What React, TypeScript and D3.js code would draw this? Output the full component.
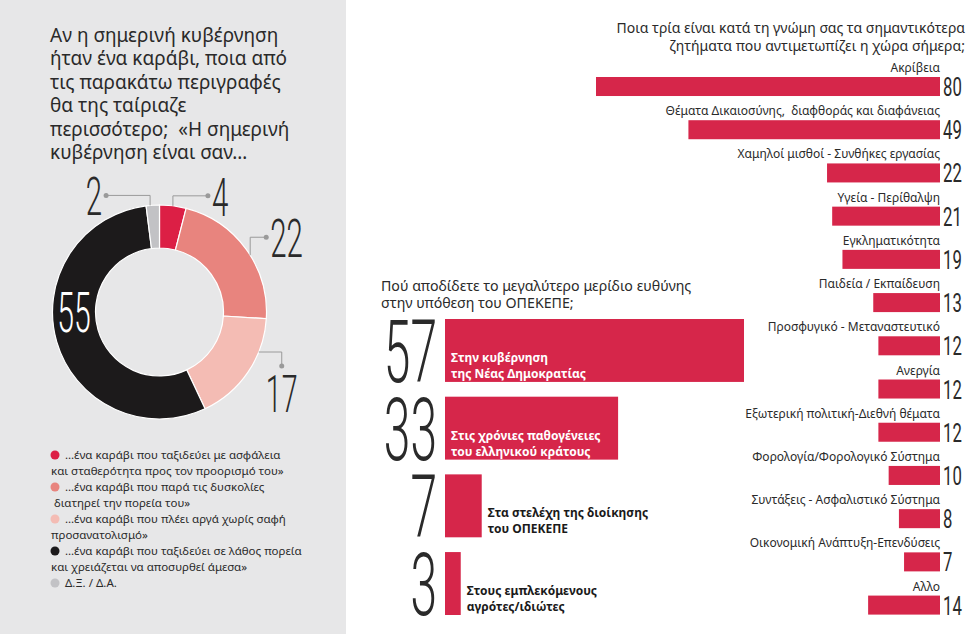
import React from 'react';
import * as d3 from 'd3';

const W = 980;
const H = 634;

// ---------- Left panel: donut ----------
const shipTitle = [
  'Αν η σημερινή κυβέρνηση',
  'ήταν ένα καράβι, ποια από',
  'τις παρακάτω περιγραφές',
  'θα της ταίριαζε',
  'περισσότερο;  «Η σημερινή',
  'κυβέρνηση είναι σαν…',
];
const shipValues = [4, 22, 17, 55, 2];
const shipColors = ['#dc1f45', '#e8847e', '#f4bcb4', '#1c1a1b', '#c2c2c5'];
const shipLegend = [
  ['…ένα καράβι που ταξιδεύει με ασφάλεια', 'και σταθερότητα προς τον προορισμό του»'],
  ['…ένα καράβι που παρά τις δυσκολίες', ' διατηρεί την πορεία του»'],
  ['…ένα καράβι που πλέει αργά χωρίς σαφή', 'προσανατολισμό»'],
  ['…ένα καράβι που ταξιδεύει σε λάθος πορεία', 'και χρειάζεται να αποσυρθεί άμεσα»'],
  ['Δ.Ξ. / Δ.Α.'],
];
// leader placement style per slice
const shipLeaders = [
  { frac: 0.5, dir: 'up', l1: 10, l2: 35 },
  { frac: 0.55, dir: 'up', l1: 18, l2: 16 },
  { frac: 0.3, dir: 'right', l1: 23, l2: 14 },
  { frac: 0.58, dir: 'inside', l1: 0, l2: 0 },
  { frac: 0.3, dir: 'up', l1: 10, l2: -44 },
];

// ---------- Middle: responsibility ----------
const respTitle = ['Πού αποδίδετε το μεγαλύτερο μερίδιο ευθύνης', 'στην υπόθεση του ΟΠΕΚΕΠΕ;'];
const respCategories = [
  ['Στην κυβέρνηση', 'της Νέας Δημοκρατίας'],
  ['Στις χρόνιες παθογένειες', 'του ελληνικού κράτους'],
  ['Στα στελέχη της διοίκησης', 'του ΟΠΕΚΕΠΕ'],
  ['Στους εμπλεκόμενους', 'αγρότες/ιδιώτες'],
];
const respValues = [57, 33, 7, 3];

// ---------- Right: issues ----------
const issueTitle = ['Ποια τρία είναι κατά τη γνώμη σας τα σημαντικότερα', 'ζητήματα που αντιμετωπίζει η χώρα σήμερα;'];
const issueCategories = [
  'Ακρίβεια',
  'Θέματα Δικαιοσύνης,  διαφθοράς και διαφάνειας',
  'Χαμηλοί μισθοί - Συνθήκες εργασίας',
  'Υγεία - Περίθαλψη',
  'Εγκληματικότητα',
  'Παιδεία / Εκπαίδευση',
  'Προσφυγικό - Μεταναστευτικό',
  'Ανεργία',
  'Εξωτερική πολιτική-Διεθνή θέματα',
  'Φορολογία/Φορολογικό Σύστημα',
  'Συντάξεις - Ασφαλιστικό Σύστημα',
  'Οικονομική Ανάπτυξη-Επενδύσεις',
  'Αλλο',
];
const issueValues = [80, 49, 22, 21, 19, 13, 12, 12, 12, 10, 8, 7, 14];
const issueAxisMax = 67; // longest bar is cut at the left edge

const FONT = '"Noto Sans", "Open Sans", sans-serif';
const NUMFONT = 'Roboto, "Liberation Sans Narrow", sans-serif';
const TEXT = '#2a2a2a';
const BAR = '#d6264a';
const LEADER = '#9a9a9a';

function Num(props: { x: number; y: number; cap: number; sx: number; anchor: string; fill: string; text: string; weight?: number }) {
  const fs = props.cap / 0.711;
  return (
    <text
      transform={`translate(${props.x},${props.y}) scale(${props.sx},1)`}
      fontSize={fs}
      fontFamily={NUMFONT}
      fontWeight={props.weight ?? 300}
      textAnchor={props.anchor as any}
      fill={props.fill}
    >
      {props.text}
    </text>
  );
}

function Donut() {
  const cx = 159.5;
  const cy = 312;
  const rOut = 107;
  const rIn = 64;
  const pie = d3.pie<number>().sort(null).value((d) => d).startAngle(0).endAngle(2 * Math.PI);
  const arcs = pie(shipValues);
  const arc = d3.arc<d3.PieArcDatum<number>>().innerRadius(rIn).outerRadius(rOut);
  const pt = (a: number, r: number) => [r * Math.sin(a), -r * Math.cos(a)];
  return (
    <g transform={`translate(${cx},${cy})`}>
      {arcs.map((a, i) => (
        <path key={i} d={arc(a) as string} fill={shipColors[i]} stroke="#ffffff" strokeWidth={1.2} />
      ))}
      {arcs.map((a, i) => {
        const L = shipLeaders[i];
        const ang = a.startAngle + L.frac * (a.endAngle - a.startAngle);
        if (L.dir === 'inside') {
          const [x, y] = pt(ang, (rIn + rOut) / 2);
          return <Num key={'l' + i} x={x} y={y + 19} cap={39} sx={0.55} anchor="middle" fill="#ffffff" text={String(shipValues[i])} />;
        }
        const [x0, y0] = pt(ang, rOut);
        let x1, y1, x2, y2;
        let label;
        if (L.dir === 'up') {
          x1 = x0; y1 = y0 - L.l1; x2 = x0 + L.l2; y2 = y1;
          const right = L.l2 > 0;
          label = <Num x={x2 + (right ? 4 : -4)} y={y2 + 20} cap={38} sx={0.55} anchor={right ? 'start' : 'end'} fill={TEXT} text={String(shipValues[i])} />;
        } else {
          x1 = x0 + L.l1; y1 = y0; x2 = x1; y2 = y0 + L.l2;
          label = <Num x={x2} y={y2 + 46} cap={37} sx={0.55} anchor="middle" fill={TEXT} text={String(shipValues[i])} />;
        }
        return (
          <g key={'l' + i}>
            <path d={`M${x0},${y0}L${x1},${y1}L${x2},${y2}`} fill="none" stroke={LEADER} strokeWidth={1} />
            <circle cx={x2} cy={y2} r={2.5} fill={LEADER} />
            {label}
          </g>
        );
      })}
    </g>
  );
}

function Legend() {
  const lineH = 16;
  let line = 0;
  const y0 = 459;
  const out: any[] = [];
  shipLegend.forEach((lines, i) => {
    const yc = y0 + line * lineH;
    out.push(<circle key={'d' + i} cx={55} cy={yc - 4} r={4.5} fill={shipColors[i]} />);
    lines.forEach((t, j) => {
      out.push(
        <text key={'t' + i + '_' + j} x={j === 0 ? 65 : 51} y={y0 + line * lineH} fontSize={11.5} fontFamily={FONT} fill={TEXT} style={{ whiteSpace: 'pre' }}>
          {t}
        </text>
      );
      line++;
    });
  });
  return <g>{out}</g>;
}

function Responsibility() {
  const x0 = 445;
  const x = d3.scaleLinear().domain([0, 57]).range([x0, 744]);
  const y = d3.scaleBand<number>().domain(d3.range(respValues.length)).range([319, 615]).paddingInner(0.19).paddingOuter(0);
  return (
    <g>
      {respTitle.map((t, i) => (
        <text key={i} x={381} y={291 + i * 17} fontSize={14.2} fontFamily={FONT} fill={TEXT}>{t}</text>
      ))}
      {respValues.map((v, i) => {
        const top = y(i) as number;
        const h = y.bandwidth();
        const w = x(v) - x0;
        const inside = w > 120;
        const lx = inside ? x0 + 6 : x(v) + 6;
        const bottom = top + h;
        return (
          <g key={i}>
            <rect x={x0} y={top} width={w} height={h} fill={BAR} />
            <Num x={437} y={bottom} cap={h - 1} sx={0.55} anchor="end" fill={TEXT} text={String(v)} />
            {respCategories[i].map((t, j) => (
              <text key={j} x={lx} y={bottom - 4 - (respCategories[i].length - 1 - j) * 16} fontSize={12} fontWeight={700} fontFamily={FONT} fill={inside ? '#ffffff' : '#1a1a1a'}>
                {t}
              </text>
            ))}
          </g>
        );
      })}
    </g>
  );
}

function Issues() {
  const xr = 940;
  const x = d3.scaleLinear().domain([0, issueAxisMax]).range([xr, 596]).clamp(true);
  const y = d3.scaleBand<number>().domain(d3.range(issueValues.length)).range([77, 614.6]).paddingInner(0.56).paddingOuter(0);
  return (
    <g>
      {issueTitle.map((t, i) => (
        <text key={i} x={965} y={33 + i * 18} fontSize={14} fontFamily={FONT} fill={TEXT} textAnchor="end">{t}</text>
      ))}
      {issueValues.map((v, i) => {
        const top = y(i) as number;
        const h = y.bandwidth();
        return (
          <g key={i}>
            <text x={xr} y={top - 5} fontSize={12} fontFamily={FONT} fill={TEXT} textAnchor="end" style={{ whiteSpace: 'pre' }}>
              {issueCategories[i]}
            </text>
            <rect x={x(v)} y={top} width={xr - x(v)} height={h} fill={BAR} />
            <Num x={xr + 3} y={top + h} cap={h - 1} sx={0.66} anchor="start" fill={TEXT} weight={400} text={String(v)} />
          </g>
        );
      })}
    </g>
  );
}

export default function App() {
  return (
    <svg width={W} height={H} style={{ position: 'absolute', left: 0, top: 0, background: '#ffffff' }}>
      <rect x={0} y={0} width={W} height={H} fill="#ffffff" />
      <rect x={0} y={0} width={346} height={H} fill="#e7e7e8" />
      {shipTitle.map((t, i) => (
        <text key={i} x={50} y={42 + i * 23.4} fontSize={19} fontFamily={FONT} fill={TEXT} style={{ whiteSpace: 'pre' }}>
          {t}
        </text>
      ))}
      <Donut />
      <Legend />
      <Responsibility />
      <Issues />
    </svg>
  );
}
